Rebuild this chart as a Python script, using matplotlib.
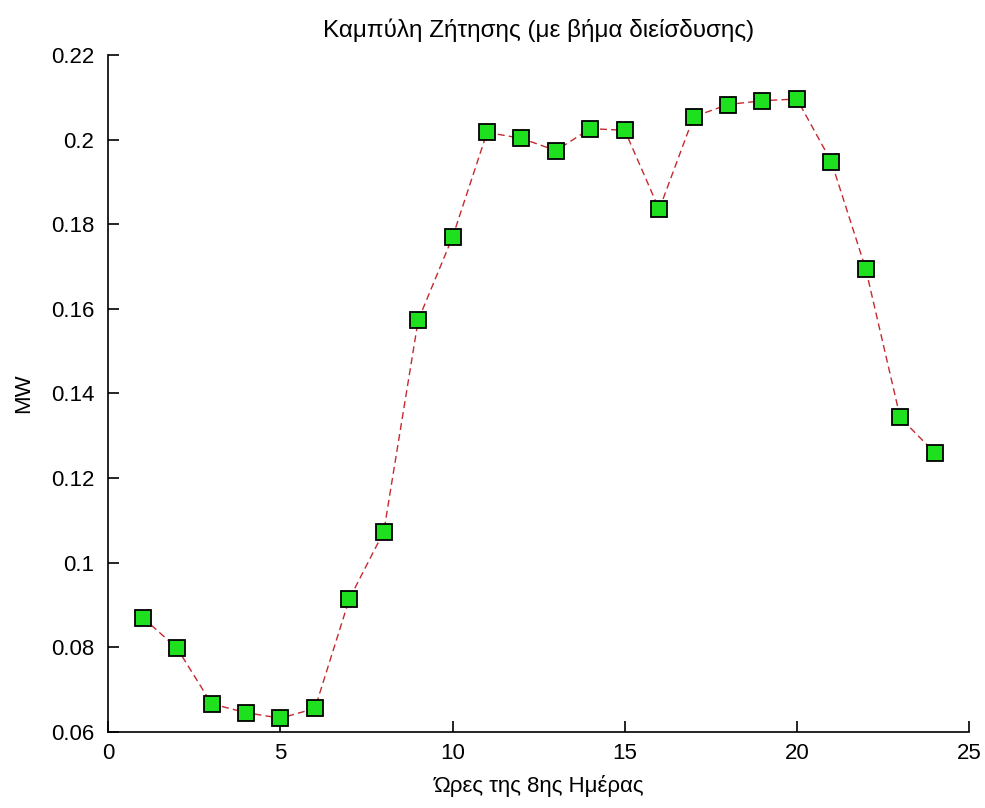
import matplotlib
matplotlib.use("Agg")
import matplotlib.pyplot as plt

hours = list(range(1, 25))
demand = [0.0870, 0.0797, 0.0666, 0.0645, 0.0632, 0.0655, 0.0914, 0.1073,
          0.1573, 0.1770, 0.2017, 0.2003, 0.1974, 0.2026, 0.2022, 0.1835,
          0.2054, 0.2083, 0.2092, 0.2096, 0.1948, 0.1694, 0.1343, 0.1260]

xticks = [0, 5, 10, 15, 20, 25]
yticks = [0.06, 0.08, 0.1, 0.12, 0.14, 0.16, 0.18, 0.2, 0.22]
ytick_labels = ["0.06", "0.08", "0.1", "0.12", "0.14", "0.16", "0.18", "0.2", "0.22"]

title = "Καμπύλη Ζήτησης (με βήμα διείσδυσης)"
xlabel = "Ώρες της 8ης Ημέρας"
ylabel = "MW"

plt.rcParams['font.family'] = ['Liberation Sans', 'DejaVu Sans']

fig = plt.figure(figsize=(9.85, 8.08), dpi=100)
ax = fig.add_axes([0.110, 0.0944, 0.8738, 0.8375])

ax.plot(hours, demand, linestyle=(0, (5, 3)), color='#c42a30', linewidth=1.0,
        marker='s', markersize=11.5, markerfacecolor='#1ee01e',
        markeredgecolor='black', markeredgewidth=1.3)

ax.set_xlim(0, 25)
ax.set_ylim(0.06, 0.22)
ax.set_xticks(xticks)
ax.set_xticklabels([str(t) for t in xticks])
ax.set_yticks(yticks)
ax.set_yticklabels(ytick_labels)

ax.spines['top'].set_visible(False)
ax.spines['right'].set_visible(False)
for s in ['left', 'bottom']:
    ax.spines[s].set_linewidth(1.2)
    ax.spines[s].set_color('black')

ax.tick_params(direction='in', length=8, width=1.2, labelsize=16, colors='black')
ax.tick_params(axis='y', pad=10)
ax.tick_params(axis='x', pad=8)

ax.set_title(title, fontsize=17.5, pad=13)
ax.set_xlabel(xlabel, fontsize=16, labelpad=8)
ax.set_ylabel(ylabel, fontsize=16, labelpad=12)

fig.savefig("out.png", dpi=100, facecolor='white')
